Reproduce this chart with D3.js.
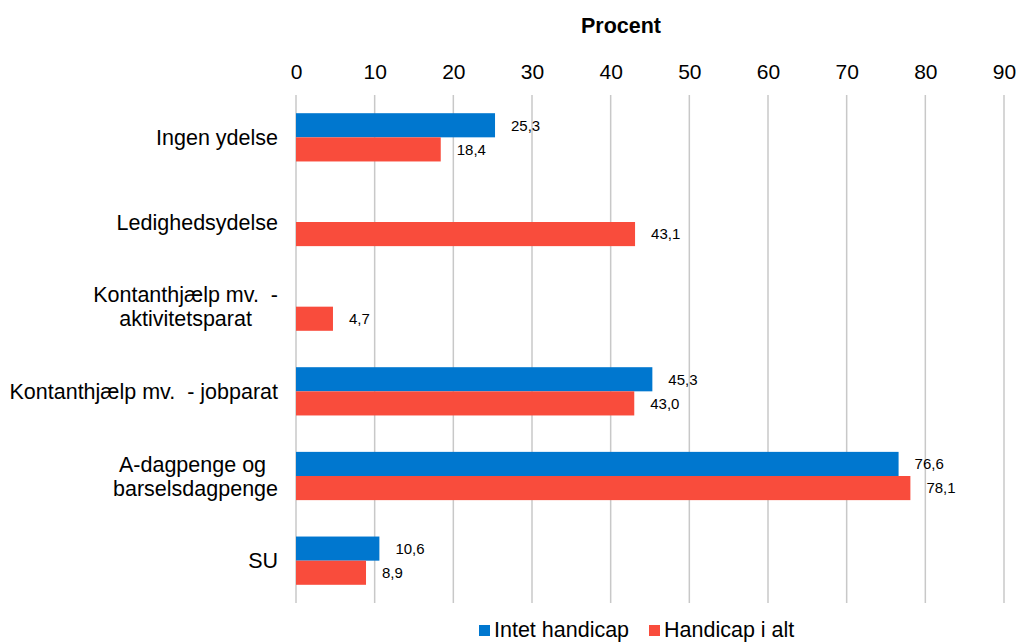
<!DOCTYPE html>
<html>
<head>
<meta charset="utf-8">
<script src="https://cdn.jsdelivr.net/npm/d3@7"></script>
<style>
  html, body { margin: 0; padding: 0; background: #fff; }
  svg { display: block; font-family: "Liberation Sans", Arial, sans-serif; }
</style>
</head>
<body>
<svg id="chart" width="1016" height="643"></svg>
<script>
// Ydelse categories (each may span several lines)
const categories = [
  ["Ingen ydelse"],
  ["Ledighedsydelse"],
  ["Kontanthjælp mv.  -", "aktivitetsparat"],
  ["Kontanthjælp mv.  - jobparat"],
  ["A-dagpenge og ", "barselsdagpenge"],
  ["SU"]
];
const seriesNames = ["Intet handicap", "Handicap i alt"];
const intetHandicap = [25.3, null, null, 45.3, 76.6, 10.6];
const handicapIAlt  = [18.4, 43.1, 4.7, 43.0, 78.1, 8.9];
const tickValues = [0, 10, 20, 30, 40, 50, 60, 70, 80, 90];
const colors = ["#0077cf", "#f94c3c"];

const svg = d3.select("#chart");
const plotLeft = 296, plotRight = 1004, plotTop = 95, plotBottom = 603;

const x = d3.scaleLinear().domain([0, 90]).range([plotLeft, plotRight]);
const y = d3.scaleBand().domain(d3.range(categories.length)).range([plotTop, plotBottom]).paddingInner(0.43).paddingOuter(0.215);
const ySub = d3.scaleBand().domain([0, 1]).range([0, y.bandwidth()]);

// Axis title
svg.append("text")
  .attr("x", 621).attr("y", 33)
  .attr("text-anchor", "middle")
  .attr("font-size", 21.5).attr("font-weight", "bold")
  .text("Procent");

// Top axis with gridlines
const axis = d3.axisTop(x).tickValues(tickValues).tickSize(0).tickPadding(0).tickFormat(d3.format("d"));
const gAxis = svg.append("g").attr("transform", `translate(0,${plotTop - 16})`).call(axis);
gAxis.select(".domain").remove();
gAxis.selectAll("text").attr("font-size", 21).attr("fill", "#000")
  .attr("font-family", "'Liberation Sans', Arial, sans-serif");

svg.append("g").selectAll("line").data(tickValues).join("line")
  .attr("x1", d => x(d)).attr("x2", d => x(d))
  .attr("y1", plotTop).attr("y2", plotBottom)
  .attr("stroke", "#c8c8c8").attr("stroke-width", 1.5);

// Bars
const series = [intetHandicap, handicapIAlt];
const fmt = v => d3.format(".1f")(v).replace(".", ",");
series.forEach((vals, si) => {
  const data = vals.map((v, i) => ({ v, i })).filter(d => d.v != null);
  const g = svg.append("g");
  g.selectAll("rect").data(data).join("rect")
    .attr("x", x(0))
    .attr("y", d => y(d.i) + ySub(si))
    .attr("width", d => x(d.v) - x(0))
    .attr("height", ySub.bandwidth())
    .attr("fill", colors[si]);
  g.selectAll("text").data(data).join("text")
    .attr("x", d => x(d.v) + 16)
    .attr("y", d => y(d.i) + ySub(si) + ySub.bandwidth() / 2)
    .attr("dy", "0.35em")
    .attr("font-size", 15)
    .text(d => fmt(d.v));
});

// Category labels: block right-aligned, lines centered within block
const labelRight = 278, lineH = 24;
categories.forEach((lines, i) => {
  const cy = y(i) + y.bandwidth() / 2;
  const t = svg.append("text").attr("font-size", 21.5).attr("text-anchor", "middle");
  const spans = lines.map((ln, k) => t.append("tspan")
    .attr("y", cy + (k - (lines.length - 1) / 2) * lineH)
    .attr("dy", "0.35em")
    .attr("xml:space", "preserve")
    .style("white-space", "pre")
    .text(ln));
  const w = d3.max(spans, s => s.node().getComputedTextLength());
  spans.forEach(s => s.attr("x", labelRight - w / 2));
});

// Legend
const legend = svg.append("g");
const legendX = [479, 649];
seriesNames.forEach((name, si) => {
  legend.append("rect").attr("x", legendX[si]).attr("y", 625).attr("width", 11).attr("height", 11).attr("fill", colors[si]);
  legend.append("text").attr("x", legendX[si] + 15).attr("y", 637).attr("font-size", 21.5).text(name);
});
</script>
</body>
</html>
